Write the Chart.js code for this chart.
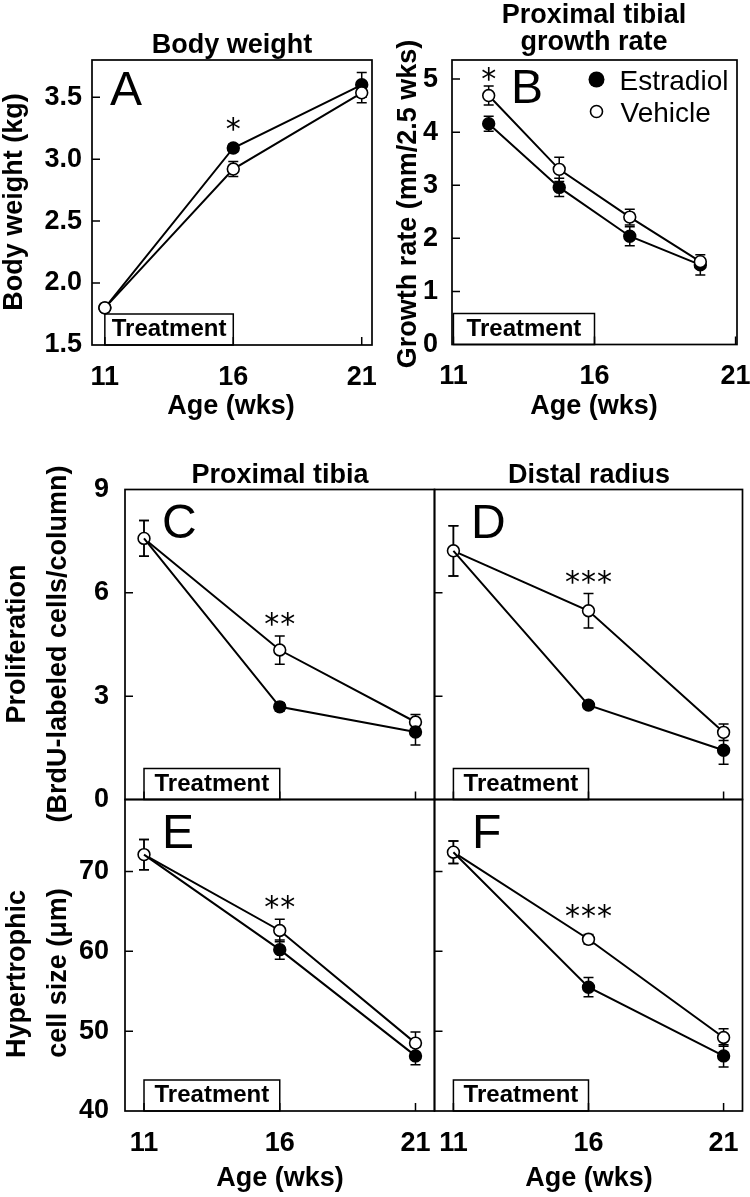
<!DOCTYPE html>
<html><head><meta charset="utf-8">
<script src="https://cdn.jsdelivr.net/npm/chart.js@4.4.1/dist/chart.umd.min.js"></script>
<style>
html,body{margin:0;padding:0;background:#fff;}
#wrap{position:relative;width:750px;height:1197px;background:#fff;}
canvas{position:absolute;left:0;top:0;}
</style></head><body><div id="wrap"></div>
<script>
// ---------------- DATA ----------------
const ages = [11, 16, 21];
const growthAges = [12.25, 14.75, 17.25, 19.75];
const xTickValues = [11, 16, 21];
const seriesNames = ['Estradiol', 'Vehicle'];
const treatmentStart = 11;
const treatmentEnd = 16;

// A: body weight (kg)
const bodyWeightEstradiol = [1.80, 3.09, 3.60];
const bodyWeightEstradiolSE = [0.02, 0.03, 0.10];
const bodyWeightVehicle = [1.80, 2.92, 3.535];
const bodyWeightVehicleSE = [0.02, 0.06, 0.08];
const bodyWeightTicks = [1.5, 2.0, 2.5, 3.0, 3.5];

// B: proximal tibial growth rate (mm/2.5 wks)
const growthEstradiol = [4.16, 2.96, 2.04, 1.50];
const growthEstradiolSE = [0.14, 0.17, 0.18, 0.19];
const growthVehicle = [4.69, 3.30, 2.40, 1.56];
const growthVehicleSE = [0.18, 0.23, 0.15, 0.05];
const growthTicks = [0, 1, 2, 3, 4, 5];

// C: proliferation, proximal tibia
const prolifTibiaEstradiol = [7.58, 2.69, 1.96];
const prolifTibiaEstradiolSE = [0.52, 0.12, 0.38];
const prolifTibiaVehicle = [7.58, 4.34, 2.25];
const prolifTibiaVehicleSE = [0.52, 0.41, 0.22];
// D: proliferation, distal radius
const prolifRadiusEstradiol = [7.22, 2.74, 1.43];
const prolifRadiusEstradiolSE = [0.73, 0.10, 0.41];
const prolifRadiusVehicle = [7.22, 5.48, 1.95];
const prolifRadiusVehicleSE = [0.73, 0.50, 0.24];
const prolifTicks = [0, 3, 6, 9];

// E: hypertrophic cell size, proximal tibia (um)
const hyperTibiaEstradiol = [72.1, 60.2, 46.9];
const hyperTibiaEstradiolSE = [1.9, 1.2, 1.1];
const hyperTibiaVehicle = [72.1, 62.6, 48.5];
const hyperTibiaVehicleSE = [1.9, 1.4, 1.4];
// F: hypertrophic cell size, distal radius (um)
const hyperRadiusEstradiol = [72.4, 55.5, 46.9];
const hyperRadiusEstradiolSE = [1.4, 1.2, 1.4];
const hyperRadiusVehicle = [72.4, 61.5, 49.2];
const hyperRadiusVehicleSE = [1.4, 0.6, 1.1];
const hyperTicks = [40, 50, 60, 70];

// significance marks (age, number of asterisks)
const sigAges = {A: 16, B: 12.25, C: 16, D: 16, E: 16, F: 16};
const sigStars = {A: 1, B: 1, C: 2, D: 3, E: 2, F: 3};

// ---------------- DRAWING ----------------
const FAM = '"Liberation Sans", Arial, Helvetica, sans-serif';
const fnt = (sz, bold) => (bold ? 'bold ' : '') + sz + 'px ' + FAM;

function txt(ctx, s, x, y, f, align, rot) {
  ctx.save();
  ctx.font = f; ctx.fillStyle = '#000';
  ctx.textAlign = align || 'center'; ctx.textBaseline = 'alphabetic';
  ctx.translate(x, y); if (rot) ctx.rotate(rot);
  ctx.fillText(s, 0, 0);
  ctx.restore();
}

function errBars(chart, xs, vals, se) {
  const X = chart.scales.x, Y = chart.scales.y, ctx = chart.ctx;
  ctx.save(); ctx.strokeStyle = '#000'; ctx.lineWidth = 1.5;
  xs.forEach((xv, i) => {
    if (!se[i]) return;
    const px = X.getPixelForValue(xv);
    const p1 = Y.getPixelForValue(vals[i] + se[i]);
    const p2 = Y.getPixelForValue(vals[i] - se[i]);
    ctx.beginPath();
    ctx.moveTo(px, p1); ctx.lineTo(px, p2);
    ctx.moveTo(px - 5, p1); ctx.lineTo(px + 5, p1);
    ctx.moveTo(px - 5, p2); ctx.lineTo(px + 5, p2);
    ctx.stroke();
  });
  ctx.restore();
}

function makePanel(p) {
  const cv = document.createElement('canvas');
  cv.width = 750; cv.height = 1197;
  document.getElementById('wrap').appendChild(cv);
  const YW = 80, XH = 70, R = 5.9;
  const g = p.geo;
  const mk = (vals, name, fill, radii) => ({
    label: name,
    data: p.x.map((a, i) => ({x: a, y: vals[i]})),
    borderColor: '#000', borderWidth: 2, tension: 0, fill: false,
    pointRadius: radii, pointHoverRadius: radii, pointBorderWidth: 1.6,
    pointBackgroundColor: fill, pointBorderColor: '#000'
  });
  const rE = p.x.map((_, i) => (p.hideFirstE && i === 0) ? 0 : R);
  const dsE = mk(p.E, seriesNames[0], '#000', rE);
  const dsV = mk(p.V, seriesNames[1], '#fff', R);
  const datasets = p.vehicleOnTop ? [dsV, dsE] : [dsE, dsV];
  const tickFont = {family: FAM, size: 27, weight: 'bold'};

  const decor = {
    id: 'decor' + p.key,
    beforeDatasetsDraw(chart) {
      const ctx = chart.ctx, X = chart.scales.x, a = chart.chartArea;
      const x0 = X.getPixelForValue(treatmentStart), x1 = X.getPixelForValue(treatmentEnd);
      const h = 31;
      ctx.save();
      ctx.fillStyle = '#fff'; ctx.fillRect(x0, a.bottom - h, x1 - x0, h);
      ctx.strokeStyle = '#000'; ctx.lineWidth = 1.5; ctx.strokeRect(x0, a.bottom - h, x1 - x0, h);
      ctx.font = fnt(24, true); ctx.fillStyle = '#000';
      ctx.textAlign = 'center'; ctx.textBaseline = 'middle';
      ctx.fillText('Treatment', (x0 + x1) / 2, a.bottom - h / 2);
      ctx.restore();
      errBars(chart, p.x, p.V, p.Vse);
      errBars(chart, p.x, p.E, p.Ese);
    },
    afterDatasetsDraw(chart) {
      const ctx = chart.ctx, X = chart.scales.x, Y = chart.scales.y, a = chart.chartArea;
      ctx.save();
      ctx.strokeStyle = '#000'; ctx.lineWidth = 1.7;
      ctx.strokeRect(a.left, a.top, a.right - a.left, a.bottom - a.top);
      ctx.lineWidth = 1.5;
      ctx.beginPath();
      Y.ticks.forEach(t => {
        if (t.value <= Y.min || t.value >= Y.max) return;
        const py = Y.getPixelForValue(t.value);
        ctx.moveTo(a.left, py); ctx.lineTo(a.left + 8, py);
      });
      X.ticks.forEach(t => {
        if (t.value <= X.min || t.value >= X.max) return;
        const px = X.getPixelForValue(t.value);
        ctx.moveTo(px, a.bottom); ctx.lineTo(px, a.bottom - 8);
      });
      ctx.stroke();
      ctx.restore();

      // significance stars
      const sa = sigAges[p.key], n = sigStars[p.key];
      let top = Infinity;
      [[p.E, p.Ese], [p.V, p.Vse]].forEach(([v, se]) => {
        const i = p.x.indexOf(sa);
        if (i < 0) return;
        top = Math.min(top, Y.getPixelForValue(v[i] + se[i]), Y.getPixelForValue(v[i]) - 6.5);
      });
      const cy = top - p.starGap, cx = X.getPixelForValue(sa);
      ctx.save();
      ctx.font = '30px "DejaVu Sans"'; ctx.fillStyle = '#000';
      ctx.textAlign = 'left'; ctx.textBaseline = 'alphabetic';
      const m = ctx.measureText('*');
      const dx = (m.actualBoundingBoxRight - m.actualBoundingBoxLeft) / 2;
      const dy = (m.actualBoundingBoxAscent - m.actualBoundingBoxDescent) / 2;
      for (let k = 0; k < n; k++) {
        const sx = cx + (k - (n - 1) / 2) * 16;
        ctx.fillText('*', sx - dx, cy + dy);
      }
      ctx.restore();

      // panel letter
      txt(ctx, p.key, p.letter[0], p.letter[1], fnt(48, false), 'left');

      // legend
      if (p.legend) {
        const [lx, ly1, ly2] = p.legend;
        ctx.save();
        ctx.beginPath(); ctx.arc(lx, ly1, 8, 0, Math.PI * 2); ctx.fillStyle = '#000'; ctx.fill();
        ctx.beginPath(); ctx.arc(lx, ly2, 6, 0, Math.PI * 2); ctx.fillStyle = '#fff'; ctx.fill();
        ctx.strokeStyle = '#000'; ctx.lineWidth = 1.6; ctx.stroke();
        ctx.restore();
        txt(ctx, seriesNames[0], lx + 23, ly1 + 10.5, fnt(28, false), 'left');
        txt(ctx, seriesNames[1], lx + 24, ly2 + 10.5, fnt(28, false), 'left');
      }
    },
    afterDraw(chart) {
      const ctx = chart.ctx;
      (p.titles || []).forEach(t => txt(ctx, t[0], t[1], t[2], fnt(27, true), 'center'));
      (p.yTitles || []).forEach(t => txt(ctx, t[0], t[1], t[2], fnt(27, true), 'center', -Math.PI / 2));
      if (p.xTitle) txt(ctx, 'Age (wks)', p.xTitle[0], p.xTitle[1], fnt(27, true), 'center');
    }
  };

  new Chart(cv, {
    type: 'line',
    data: {datasets},
    options: {
      responsive: false, animation: false, devicePixelRatio: 1,
      layout: {padding: {left: g.l - YW, top: g.t, right: 750 - g.r, bottom: Math.max(0, 1197 - g.b - XH)}},
      plugins: {legend: {display: false}, tooltip: {enabled: false}, title: {display: false}},
      scales: {
        x: {
          type: 'linear', min: g.xmin, max: g.xmax,
          afterBuildTicks: s => { s.ticks = xTickValues.map(v => ({value: v})); },
          afterFit: s => { s.height = Math.min(XH, 1197 - g.b); s.paddingLeft = 0; s.paddingRight = 0; s.paddingTop = 0; s.paddingBottom = 0; },
          grid: {display: false, drawTicks: false}, border: {display: false},
          ticks: {display: p.showX, padding: 16, font: tickFont, color: '#000', maxRotation: 0, autoSkip: false,
                  callback: v => String(v)}
        },
        y: {
          type: 'linear', min: g.ymin, max: g.ymax,
          afterBuildTicks: s => { s.ticks = p.yTicks.map(v => ({value: v})); },
          afterFit: s => { s.width = YW; s.paddingLeft = 0; s.paddingRight = 0; s.paddingTop = 0; s.paddingBottom = 0; },
          grid: {display: false, drawTicks: false}, border: {display: false},
          ticks: {display: p.showY, padding: p.yPad, font: tickFont, color: '#000', autoSkip: false,
                  callback: v => p.yDec ? Number(v).toFixed(p.yDec) : String(v)}
        }
      }
    },
    plugins: [decor]
  });
}

makePanel({
  key: 'A', x: ages,
  E: bodyWeightEstradiol, Ese: bodyWeightEstradiolSE, V: bodyWeightVehicle, Vse: bodyWeightVehicleSE,
  yTicks: bodyWeightTicks, yDec: 1, yPad: 10, showX: true, showY: true, vehicleOnTop: true, hideFirstE: false,
  geo: {l: 92, t: 60, r: 372, b: 345, xmin: 10.5, xmax: 21.4, ymin: 1.5, ymax: 3.8},
  starGap: 17, letter: [110, 105],
  titles: [['Body weight', 232, 53]],
  yTitles: [['Body weight (kg)', 22, 202]],
  xTitle: [231, 414]
});
makePanel({
  key: 'B', x: growthAges,
  E: growthEstradiol, Ese: growthEstradiolSE, V: growthVehicle, Vse: growthVehicleSE,
  yTicks: growthTicks, yDec: 0, yPad: 14, showX: true, showY: true, vehicleOnTop: true, hideFirstE: false,
  geo: {l: 452, t: 60, r: 737, b: 344.5, xmin: 10.95, xmax: 21.05, ymin: 0, ymax: 5.36},
  starGap: 12, letter: [511, 103], legend: [596.5, 79.5, 111.5],
  titles: [['Proximal tibial', 594, 23], ['growth rate', 594, 50]],
  yTitles: [['Growth rate (mm/2.5 wks)', 416, 204]],
  xTitle: [594, 414]
});
makePanel({
  key: 'C', x: ages,
  E: prolifTibiaEstradiol, Ese: prolifTibiaEstradiolSE, V: prolifTibiaVehicle, Vse: prolifTibiaVehicleSE,
  yTicks: prolifTicks, yDec: 0, yPad: 16, showX: false, showY: true, vehicleOnTop: false, hideFirstE: true,
  geo: {l: 125, t: 489.5, r: 434.5, b: 799.5, xmin: 10.3, xmax: 21.7, ymin: 0, ymax: 9},
  starGap: 17, letter: [162, 538],
  titles: [['Proximal tibia', 280, 483]],
  yTitles: [['Proliferation', 25, 644], ['(BrdU-labeled cells/column)', 66, 644]]
});
makePanel({
  key: 'D', x: ages,
  E: prolifRadiusEstradiol, Ese: prolifRadiusEstradiolSE, V: prolifRadiusVehicle, Vse: prolifRadiusVehicleSE,
  yTicks: prolifTicks, yDec: 0, yPad: 16, showX: false, showY: false, vehicleOnTop: false, hideFirstE: true,
  geo: {l: 434.5, t: 489.5, r: 744, b: 799.5, xmin: 10.3, xmax: 21.7, ymin: 0, ymax: 9},
  starGap: 17, letter: [471, 538],
  titles: [['Distal radius', 589, 483]]
});
makePanel({
  key: 'E', x: ages,
  E: hyperTibiaEstradiol, Ese: hyperTibiaEstradiolSE, V: hyperTibiaVehicle, Vse: hyperTibiaVehicleSE,
  yTicks: hyperTicks, yDec: 0, yPad: 16, showX: true, showY: true, vehicleOnTop: false, hideFirstE: true,
  geo: {l: 125, t: 799.5, r: 434.5, b: 1111, xmin: 10.3, xmax: 21.7, ymin: 40, ymax: 79},
  starGap: 17, letter: [162, 848],
  yTitles: [['Hypertrophic', 25, 974], ['cell size (\u03bcm)', 66, 973]],
  xTitle: [280, 1186]
});
makePanel({
  key: 'F', x: ages,
  E: hyperRadiusEstradiol, Ese: hyperRadiusEstradiolSE, V: hyperRadiusVehicle, Vse: hyperRadiusVehicleSE,
  yTicks: hyperTicks, yDec: 0, yPad: 16, showX: true, showY: false, vehicleOnTop: false, hideFirstE: true,
  geo: {l: 434.5, t: 799.5, r: 744, b: 1111, xmin: 10.3, xmax: 21.7, ymin: 40, ymax: 79},
  starGap: 22, letter: [472, 848],
  xTitle: [589, 1186]
});
</script>
</body></html>
